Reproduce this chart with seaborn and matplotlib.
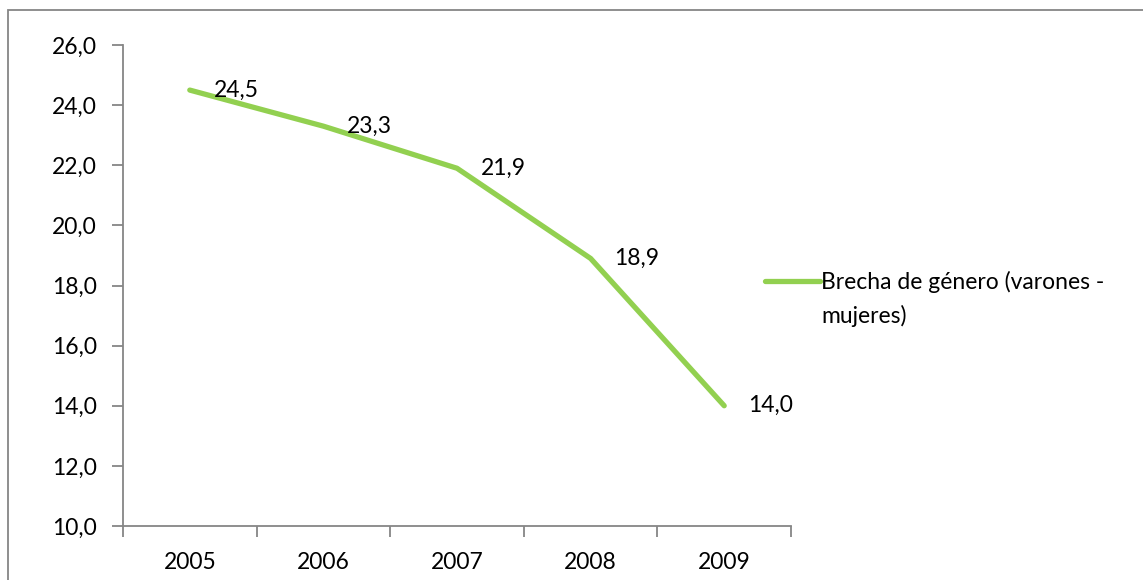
import matplotlib
matplotlib.use("Agg")
import matplotlib.pyplot as plt
from matplotlib.patches import Rectangle
from matplotlib.ticker import FixedLocator, NullFormatter, FixedFormatter
import seaborn as sns
import pandas as pd

# Data
years = ["2005", "2006", "2007", "2008", "2009"]
brecha = [24.5, 23.3, 21.9, 18.9, 14.0]
series_label_lines = ["Brecha de género (varones -", "mujeres)"]
y_ticks = [10, 12, 14, 16, 18, 20, 22, 24, 26]

sns.set_theme(style="white")
plt.rcParams["font.family"] = ["Lato", "DejaVu Sans"]
plt.rcParams["text.color"] = "black"

FS = 16.5
GRAY = "#868686"
GREEN = "#92D050"

fig = plt.figure(figsize=(11.43, 5.8), dpi=100)
ax = fig.add_axes([123 / 1143, 54 / 580, (791 - 123) / 1143, (526 - 45) / 580])

df = pd.DataFrame({"Año": years, "Brecha": brecha})
sns.lineplot(data=df, x="Año", y="Brecha", ax=ax, color=GREEN, linewidth=3.8,
             label=series_label_lines[0], sort=False)

ax.set_xlim(-0.5, len(years) - 0.5)
ax.set_ylim(10, 26)
ax.set_xlabel("")
ax.set_ylabel("")

# category boundaries as major ticks, labels centered on categories
ax.xaxis.set_major_locator(FixedLocator([i - 0.5 for i in range(len(years) + 1)]))
ax.xaxis.set_major_formatter(NullFormatter())
ax.xaxis.set_minor_locator(FixedLocator(list(range(len(years)))))
ax.xaxis.set_minor_formatter(FixedFormatter(years))
ax.tick_params(axis="x", which="major", bottom=True, length=8, width=1.3,
               color=GRAY, direction="out")
ax.tick_params(axis="x", which="minor", bottom=True, length=0, pad=19,
               labelsize=FS, labelcolor="black")

ax.set_yticks(y_ticks)
ax.set_yticklabels([f"{v:.1f}".replace(".", ",") for v in y_ticks])
ax.tick_params(axis="y", left=True, length=8, width=1.3, color=GRAY,
               direction="out", pad=11, labelsize=FS, labelcolor="black")

for side in ["top", "right"]:
    ax.spines[side].set_visible(False)
for side in ["left", "bottom"]:
    ax.spines[side].set_color(GRAY)
    ax.spines[side].set_linewidth(1.3)
ax.grid(False)

# value labels to the right of each point
for i, v in enumerate(brecha):
    ax.annotate(f"{v:.1f}".replace(".", ","), (i, v), xytext=(17, 0),
                textcoords="offset points", ha="left", va="center",
                fontsize=FS, color="black")

leg = ax.legend(loc="center left", bbox_to_anchor=(765 / 1143, 1 - 282 / 580),
                bbox_transform=fig.transFigure, frameon=False, fontsize=FS,
                handlelength=2.4, handletextpad=0.05, borderpad=0, borderaxespad=0)
for t in leg.get_texts():
    t.set_color("black")

# wrapped second line of the legend entry
fig.canvas.draw()
ext = leg.get_texts()[0].get_window_extent()
fig.text(ext.x0 / 1143, (ext.y0 + ext.height / 2 - 34) / 580, series_label_lines[1],
         ha="left", va="center", fontsize=FS, color="black")

# outer chart frame
fig.patches.append(Rectangle((8 / 1143, -0.1), 1.2, 1 - 10 / 580 + 0.1,
                             transform=fig.transFigure, fill=False,
                             edgecolor=GRAY, linewidth=1.3))

fig.savefig("out.png", dpi=100)
